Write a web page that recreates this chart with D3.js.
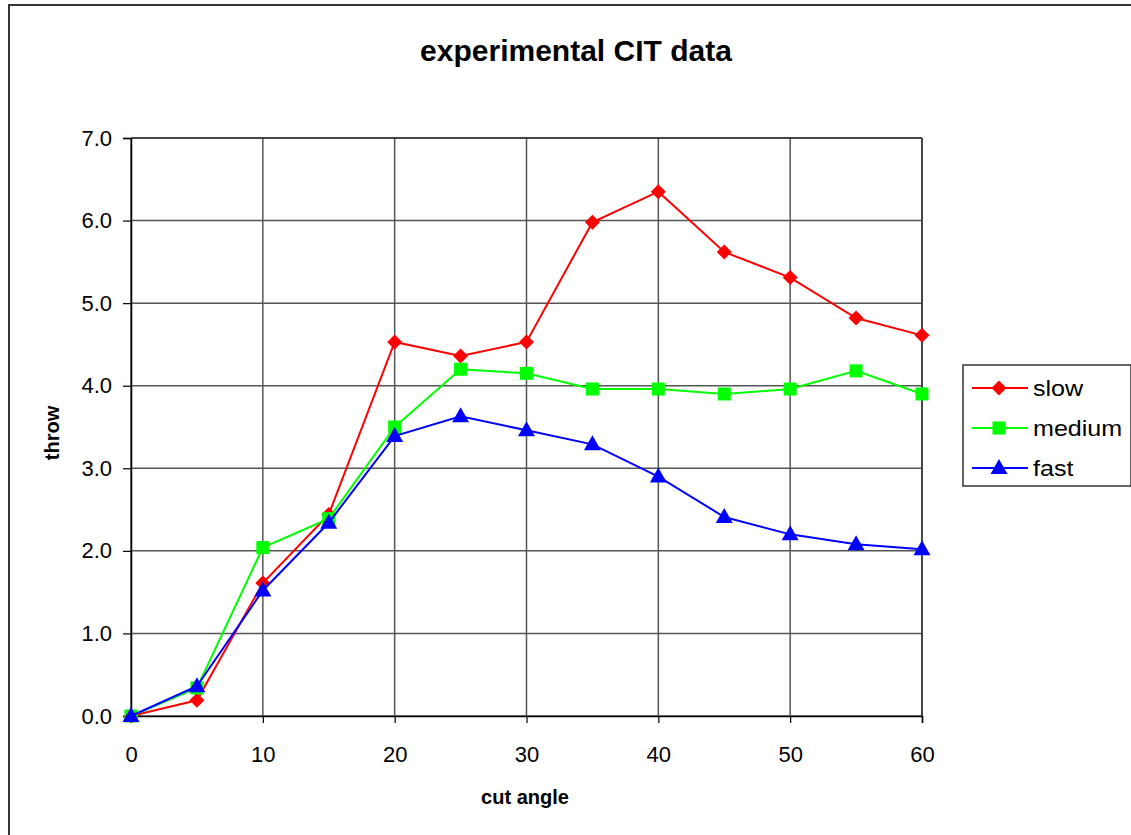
<!DOCTYPE html>
<html>
<head>
<meta charset="utf-8">
<script src="https://cdn.jsdelivr.net/npm/d3@7"></script>
<style>
  html, body { margin: 0; padding: 0; background: #fff; }
  svg { display: block; font-family: "Liberation Sans", Arial, sans-serif; }
</style>
</head>
<body>
<svg id="chart" width="1131" height="835"></svg>
<script>
const angles = [0, 5, 10, 15, 20, 25, 30, 35, 40, 45, 50, 55, 60];
const slow   = [0.0, 0.19, 1.61, 2.44, 4.53, 4.36, 4.53, 5.98, 6.35, 5.62, 5.31, 4.82, 4.61];
const medium = [0.0, 0.34, 2.04, 2.39, 3.50, 4.20, 4.15, 3.96, 3.96, 3.90, 3.96, 4.18, 3.90];
const fast   = [0.0, 0.36, 1.52, 2.34, 3.39, 3.63, 3.46, 3.29, 2.90, 2.41, 2.20, 2.08, 2.02];
const seriesNames = ["slow", "medium", "fast"];
const xTicks = [0, 10, 20, 30, 40, 50, 60];
const yTicks = [0, 1, 2, 3, 4, 5, 6, 7];

const series = [
  { name: seriesNames[0], values: slow,   color: "#ff0000", marker: "diamond" },
  { name: seriesNames[1], values: medium, color: "#00ff00", marker: "square" },
  { name: seriesNames[2], values: fast,   color: "#0000ff", marker: "triangle" }
];

const svg = d3.select("#chart");
const W = 1131, H = 835;
const plot = { left: 131, right: 922, top: 138, bottom: 716 };

// outer border
svg.append("rect").attr("x", 9).attr("y", 5).attr("width", W + 10).attr("height", H + 10)
  .attr("fill", "#fff").attr("stroke", "#333").attr("stroke-width", 2);

const x = d3.scaleLinear().domain([0, 60]).range([plot.left, plot.right]);
const y = d3.scaleLinear().domain([0, 7]).range([plot.bottom, plot.top]);

// gridlines
const grid = svg.append("g");
grid.selectAll("line.h").data(yTicks).enter().append("line")
  .attr("x1", plot.left).attr("x2", plot.right)
  .attr("y1", d => y(d)).attr("y2", d => y(d))
  .attr("stroke", "#555").attr("stroke-width", 1.5);
grid.selectAll("line.v").data(xTicks).enter().append("line")
  .attr("x1", d => x(d)).attr("x2", d => x(d))
  .attr("y1", plot.top).attr("y2", plot.bottom)
  .attr("stroke", "#555").attr("stroke-width", 1.5);

// axes
const yAxis = d3.axisLeft(y).tickValues(yTicks).tickFormat(d3.format(".1f")).tickSize(8).tickPadding(11);
const gy = svg.append("g").attr("transform", `translate(${plot.left},0)`).call(yAxis);
gy.select(".domain").attr("stroke", "#000").attr("stroke-width", 1.5);
gy.selectAll(".tick line").attr("stroke", "#000").attr("stroke-width", 1.2);
gy.selectAll(".tick text").attr("font-size", 22).attr("fill", "#000")
  .attr("font-family", "Liberation Sans, Arial, sans-serif");

const xAxis = d3.axisBottom(x).tickValues(xTicks).tickFormat(d3.format("d")).tickSize(7).tickPadding(23);
const gx = svg.append("g").attr("transform", `translate(0,${plot.bottom})`).call(xAxis);
gx.select(".domain").attr("stroke", "#000").attr("stroke-width", 1.5);
gx.selectAll(".tick line").attr("stroke", "#000").attr("stroke-width", 1.2);
gx.selectAll(".tick text").attr("font-size", 22).attr("fill", "#000")
  .attr("font-family", "Liberation Sans, Arial, sans-serif");

// top and right edge of plot
svg.append("line").attr("x1", plot.right).attr("x2", plot.right)
  .attr("y1", plot.top).attr("y2", plot.bottom).attr("stroke", "#333").attr("stroke-width", 1.5);
svg.append("line").attr("x1", plot.left).attr("x2", plot.right)
  .attr("y1", plot.top).attr("y2", plot.top).attr("stroke", "#333").attr("stroke-width", 1.5);

function drawMarker(g, s, cx, cy) {
  if (s.marker === "diamond") {
    const r = 7.5;
    g.append("path").attr("d", `M${cx},${cy - r}L${cx + r},${cy}L${cx},${cy + r}L${cx - r},${cy}Z`).attr("fill", s.color);
  } else if (s.marker === "square") {
    const r = 6.5;
    g.append("rect").attr("x", cx - r).attr("y", cy - r).attr("width", 2 * r).attr("height", 2 * r).attr("fill", s.color);
  } else {
    const h = 15, w = 17;
    g.append("path").attr("d", `M${cx},${cy - h * 0.6}L${cx + w / 2},${cy + h * 0.4}L${cx - w / 2},${cy + h * 0.4}Z`).attr("fill", s.color);
  }
}

const line = d3.line().x((d, i) => x(angles[i])).y(d => y(d));
series.forEach(s => {
  const g = svg.append("g");
  g.append("path").datum(s.values).attr("d", line)
    .attr("fill", "none").attr("stroke", s.color).attr("stroke-width", 2);
  s.values.forEach((v, i) => drawMarker(g, s, x(angles[i]), y(v)));
});

// title
svg.append("text").attr("x", 576).attr("y", 61).attr("text-anchor", "middle")
  .attr("font-size", 30).attr("font-weight", "bold").text("experimental CIT data");

// axis titles
svg.append("text").attr("x", 525).attr("y", 804).attr("text-anchor", "middle")
  .attr("font-size", 20).attr("font-weight", "bold").text("cut angle");
svg.append("text").attr("transform", "translate(59,433) rotate(-90)").attr("text-anchor", "middle")
  .attr("font-size", 20).attr("font-weight", "bold").text("throw");

// legend
const lg = svg.append("g");
lg.append("rect").attr("x", 963).attr("y", 365).attr("width", 168).attr("height", 121)
  .attr("fill", "#fff").attr("stroke", "#333").attr("stroke-width", 1.5);
series.forEach((s, i) => {
  const ly = 388 + i * 40;
  lg.append("line").attr("x1", 972).attr("x2", 1028).attr("y1", ly).attr("y2", ly)
    .attr("stroke", s.color).attr("stroke-width", 2);
  drawMarker(lg, s, 999, ly);
  lg.append("text").attr("transform", `translate(1033,${ly + 8}) scale(1.14,1)`)
    .attr("font-size", 22).text(s.name);
});
</script>
</body>
</html>
